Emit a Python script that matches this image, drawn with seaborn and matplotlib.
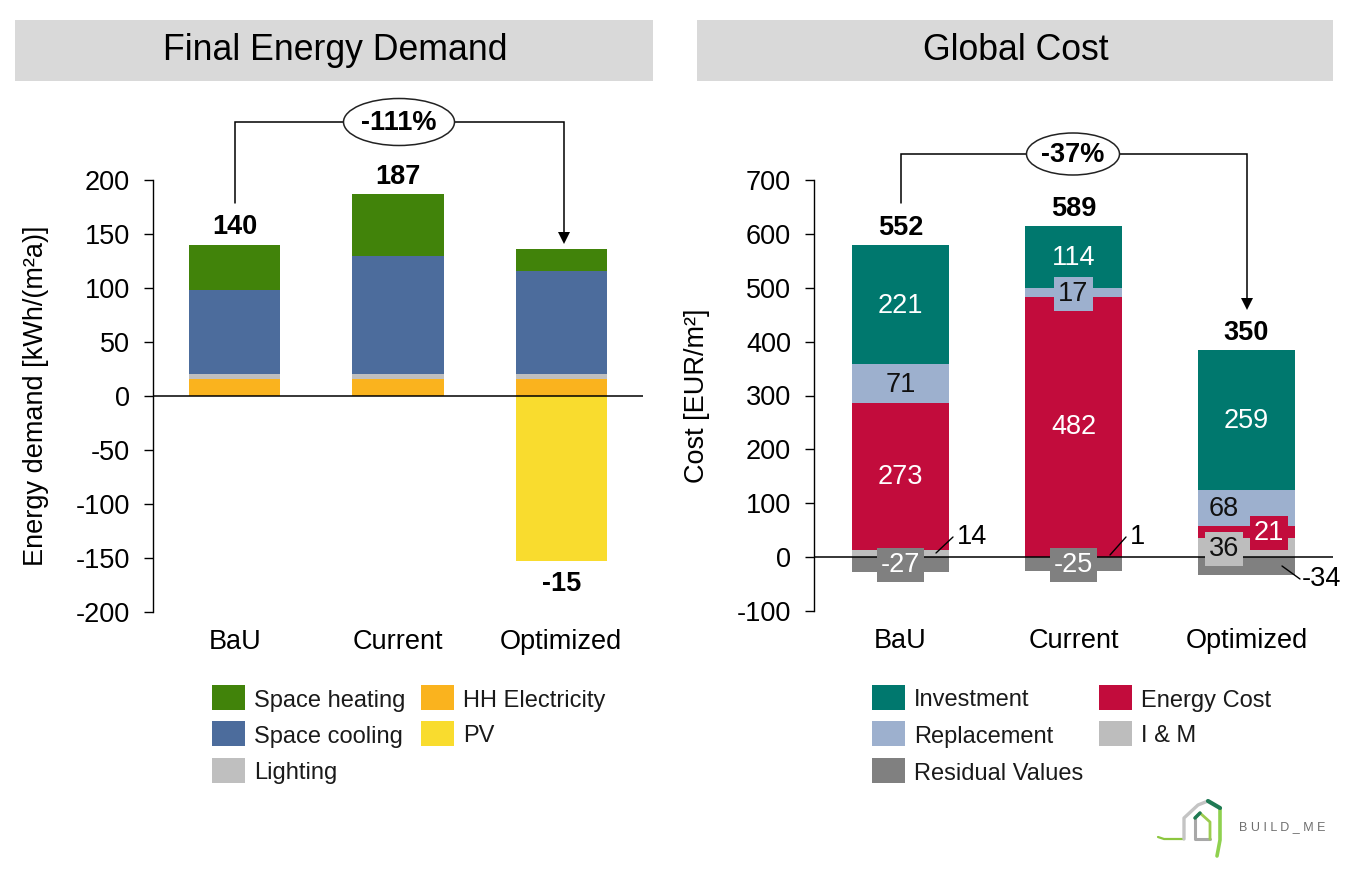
import matplotlib
matplotlib.use("Agg")
import matplotlib.pyplot as plt
from matplotlib.patches import Ellipse, Rectangle
import seaborn as sns
import numpy as np

scenarios = ["BaU", "Current", "Optimized"]

hh_electricity = [16, 16, 16]
lighting = [4, 4, 4]
space_cooling = [78, 110, 96]
space_heating = [42, 57, 20]
pv = [0, 0, -153]
energy_totals = ["140", "187", "-15"]

im_cost = [14, 1, 36]
energy_cost = [273, 482, 21]
replacement = [71, 17, 68]
investment = [221, 114, 259]
residual = [-27, -25, -34]
cost_totals = ["552", "589", "350"]

energy_change = "-111%"
cost_change = "-37%"

C_GREEN, C_BLUE, C_LGREY, C_ORANGE, C_YELLOW = "#41830a", "#4c6c9c", "#bfbfbf", "#fab31e", "#f9dc2e"
C_TEAL, C_LBLUE, C_RED, C_IM, C_RES = "#00786e", "#9db0ce", "#c20c3c", "#bdbdbd", "#808080"
FS = 19.5

sns.set_theme(style="white")
plt.rcParams["font.family"] = ["Liberation Sans", "DejaVu Sans"]
plt.rcParams["axes.unicode_minus"] = False
W, H = 1360, 873
fig = plt.figure(figsize=(W / 100, H / 100), dpi=100)


def make_axes(x0, x1, y0, y1):
    return fig.add_axes([x0 / W, 1 - y1 / H, (x1 - x0) / W, (y1 - y0) / H])


def stack(ax, layers, width):
    base = np.zeros(3)
    for vals, col in layers:
        sns.barplot(x=scenarios, y=vals, bottom=base, color=col, width=width,
                    saturation=1, ax=ax, linewidth=0)
        base = base + np.array(vals)
    return base


def style(ax, ymin, ymax, step, ylabel, labelx):
    ax.set_xlim(-0.5, 2.5)
    ax.set_ylim(ymin, ymax)
    ax.set_yticks(np.arange(ymin, ymax + 1, step))
    for s in ("top", "right", "bottom"):
        ax.spines[s].set_visible(False)
    ax.spines["left"].set_color("black")
    ax.spines["left"].set_linewidth(1.0)
    ax.axhline(0, color="black", lw=1.1, zorder=5)
    ax.tick_params(axis="y", left=True, length=6.5, width=1.0, color="black",
                   labelsize=FS, labelcolor="black", pad=10)
    ax.tick_params(axis="x", bottom=False, labelsize=FS, labelcolor="black", pad=6)
    ax.set_ylabel(ylabel, fontsize=FS, color="black")
    ax.yaxis.set_label_coords(labelx, 0.5)
    ax.set_xlabel("")
    ax.patch.set_alpha(0)


# ---- left panel
ax1 = make_axes(153, 643, 180, 612)
stack(ax1, [(hh_electricity, C_ORANGE), (lighting, C_LGREY),
            (space_cooling, C_BLUE), (space_heating, C_GREEN)], 0.56)
sns.barplot(x=scenarios, y=pv, color=C_YELLOW, width=0.56, saturation=1, ax=ax1, linewidth=0)
style(ax1, -200, 200, 50, "Energy demand [kWh/(m²a)]", -0.212)
e_top = np.sum([hh_electricity, lighting, space_cooling, space_heating], axis=0)
ax1.text(0, e_top[0] + 4, energy_totals[0], ha="center", va="bottom", fontsize=FS, fontweight="bold", color="black")
ax1.text(1, e_top[1] + 4, energy_totals[1], ha="center", va="bottom", fontsize=FS, fontweight="bold", color="black")
ax1.text(2, pv[2] - 9, energy_totals[2], ha="center", va="top", fontsize=FS, fontweight="bold", color="black")

# ---- right panel
ax2 = make_axes(814, 1333, 180, 611)
stack(ax2, [(im_cost, C_IM), (energy_cost, C_RED), (replacement, C_LBLUE), (investment, C_TEAL)], 0.555)
sns.barplot(x=scenarios, y=residual, color=C_RES, width=0.555, saturation=1, ax=ax2, linewidth=0)
style(ax2, -100, 700, 100, "Cost [EUR/m²]", -0.2)
c_top = np.sum([im_cost, energy_cost, replacement, investment], axis=0)
for i in range(3):
    ax2.text(i, c_top[i] + 8, cost_totals[i], ha="center", va="bottom", fontsize=FS,
             fontweight="bold", color="black")


def lab(i, y, v, col, bg, dx=0.0):
    ax2.text(i + dx, y, str(v), ha="center", va="center", fontsize=FS, color=col, zorder=6,
             bbox=dict(boxstyle="square,pad=0.15", fc=bg, ec="none"))


for i in range(3):
    b = im_cost[i] + energy_cost[i] + replacement[i]
    lab(i, b + investment[i] / 2 - 2, investment[i], "white", C_TEAL)
lab(0, 14 + 273 + 33, replacement[0], "#111111", C_LBLUE)
lab(1, 483 + 5, replacement[1], "#111111", C_LBLUE)
lab(2, 90, replacement[2], "#111111", C_LBLUE, dx=-0.13)
lab(0, 148, energy_cost[0], "white", C_RED)
lab(1, 241, energy_cost[1], "white", C_RED)
lab(2, 44, energy_cost[2], "white", C_RED, dx=0.13)
lab(2, 15, im_cost[2], "#111111", C_IM, dx=-0.13)
lab(0, -15, residual[0], "white", C_RES)
lab(1, -15, residual[1], "white", C_RES)

# ---- overlay in pixel coordinates: headers, connectors, legends, logo
ov = fig.add_axes([0, 0, 1, 1], zorder=10)
ov.set_xlim(0, W)
ov.set_ylim(H, 0)
ov.axis("off")
ov.patch.set_alpha(0)

for x0, x1, title in [(15, 653, "Final Energy Demand"), (697, 1333, "Global Cost")]:
    ov.add_patch(Rectangle((x0, 20), x1 - x0, 61, fc="#d9d9d9", ec="none"))
    ov.text((x0 + x1) / 2 + 1, 50, title, ha="center", va="center", fontsize=25.7, color="black")


def connector(xl, xr, y, yl, yarrow, cx, ew, eh, txt):
    ov.plot([xl, xl, xr, xr], [yl, y, y, yarrow - 8], color="black", lw=1.1, solid_joinstyle="miter")
    ov.plot([xr], [yarrow - 5], marker="v", ms=9, color="black", mew=0)
    ov.add_patch(Ellipse((cx, y), ew, eh, fc="white", ec="#222222", lw=1.1, zorder=3))
    ov.text(cx, y + 1, txt, ha="center", va="center", fontsize=FS, fontweight="bold", color="black", zorder=4)


connector(235, 564, 122, 203, 243, 399, 111, 47, energy_change)
connector(901, 1247, 154, 203, 309, 1073, 93, 42, cost_change)

# leader lines and outer labels
for xs, ys in [([936, 953], [553, 537]), ([1110, 1126], [555, 537]), ([1282, 1300], [566, 579])]:
    ov.plot(xs, ys, color="black", lw=1.0)
ov.text(957, 537, str(im_cost[0]), va="center", ha="left", fontsize=FS, color="black")
ov.text(1130, 537, str(im_cost[1]), va="center", ha="left", fontsize=FS, color="black")
ov.text(1302, 579, str(residual[2]), va="center", ha="left", fontsize=FS, color="black", clip_on=False)

rows = [698, 734, 771]
legend_items = [
    (212, rows[0], C_GREEN, "Space heating"), (212, rows[1], C_BLUE, "Space cooling"),
    (212, rows[2], C_LGREY, "Lighting"), (421, rows[0], C_ORANGE, "HH Electricity"),
    (421, rows[1], C_YELLOW, "PV"),
    (872, rows[0], C_TEAL, "Investment"), (872, rows[1], C_LBLUE, "Replacement"),
    (872, rows[2], C_RES, "Residual Values"), (1099, rows[0], C_RED, "Energy Cost"),
    (1099, rows[1], C_IM, "I & M"),
]
for x, y, col, name in legend_items:
    ov.add_patch(Rectangle((x, y - 13), 33, 25, fc=col, ec="none"))
    ov.text(x + 42, y + 8.5, name, va="baseline", ha="left", fontsize=17, color="#1a1a1a")

# logo
ov.plot([1158, 1164, 1184], [837, 839, 839], color="#8cc63f", lw=1.6, solid_capstyle="round")
ov.plot([1184, 1184, 1198, 1208], [839, 818, 805, 801], color="#c4c4c4", lw=2.4)
ov.plot([1195, 1195, 1210], [818, 839, 839], color="#a8a8a8", lw=2.2)
ov.plot([1195, 1200, 1210, 1210], [818, 813, 822, 839], color="#9ccc50", lw=2.0)
ov.plot([1220, 1220, 1217], [808, 840, 856], color="#8fd14f", lw=2.6)
ov.plot([1208, 1220], [801, 808], color="#1f7a55", lw=3)
ov.plot([1195, 1200], [818, 813], color="#1f7a55", lw=2.5)
ov.text(1282, 827, "B U I L D _ M E", ha="center", va="center", fontsize=9, color="#6f6f6f")

fig.savefig("out.png", dpi=100, facecolor="white")
